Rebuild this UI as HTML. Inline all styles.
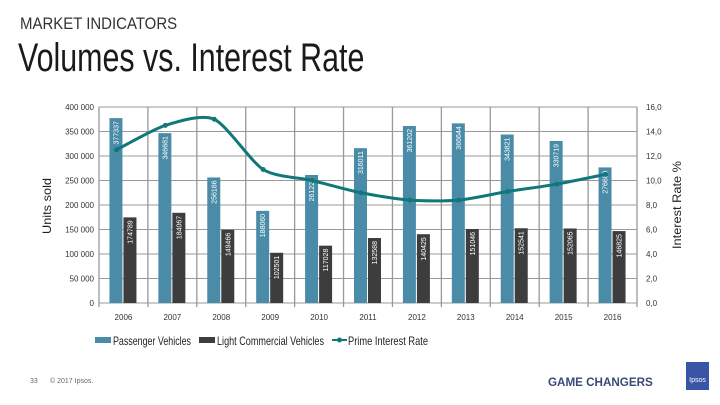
<!DOCTYPE html>
<html><head><meta charset="utf-8"><style>
body{margin:0;background:#fff;font-family:"Liberation Sans",sans-serif;}
#wrap{position:relative;width:720px;height:405px;overflow:hidden;}
.t{position:absolute;white-space:nowrap;transform-origin:0 0;}
</style></head><body>
<div id="wrap">
<div class="t" style="left:20px;top:14px;font-size:17px;color:#333;transform:scaleX(0.88);">MARKET INDICATORS</div>
<div class="t" style="left:18px;top:36px;font-size:40px;color:#1a1a1a;transform:scaleX(0.76);">Volumes vs. Interest Rate</div>
<svg id="chart" width="720" height="405" style="position:absolute;left:0;top:0"></svg>
<div class="t" style="left:30px;top:378px;font-size:7px;color:#666;">33</div>
<div class="t" style="left:50px;top:378px;font-size:7px;color:#666;">© 2017 Ipsos.</div>
<div class="t" style="left:548px;top:375px;font-size:12px;font-weight:bold;color:#3a4a78;transform:scaleX(0.97);">GAME CHANGERS</div>
<div class="t" style="left:686px;top:362px;width:23px;height:28px;background:#3a55a5;color:#fff;font-size:7px;text-align:center;line-height:38px;">Ipsos</div>
</div>
<script>
const categories=["2006","2007","2008","2009","2010","2011","2012","2013","2014","2015","2016"];
const passenger=[377337,346681,256186,188060,261225,316011,361202,366644,343821,330719,276689];
const commercial=[174789,184067,149466,102501,117028,132588,140425,151046,152541,152065,146825];
const rate=[12.5,14.5,15.0,10.9,10.0,9.0,8.4,8.4,9.1,9.7,10.5];
const leftTicks=["0","50 000","100 000","150 000","200 000","250 000","300 000","350 000","400 000"];
const rightTicks=["0,0","2,0","4,0","6,0","8,0","10,0","12,0","14,0","16,0"];
const NS="http://www.w3.org/2000/svg";
const svg=document.getElementById('chart');
const X0=99,W=538,Y0=303,H=196;
const bw=W/categories.length;
const y=v=>Y0-v/400000*H;
const yr=v=>Y0-v/16*H;
const cx=i=>X0+bw*(i+0.5);
function mk(tag,a){const e=document.createElementNS(NS,tag);for(const k in a)e.setAttribute(k,a[k]);svg.appendChild(e);return e;}
leftTicks.forEach((t,i)=>{const yy=Y0-i*H/8;
 const g=mk('line',{x1:X0,x2:X0+W,y1:yy,y2:yy,stroke:'#999','stroke-width':1});
 
 const l=mk('text',{x:94,y:yy+3,'text-anchor':'end','font-size':8,fill:'#333'});l.textContent=t;
 
 const r=mk('text',{x:646,y:yy+3,'font-size':8,fill:'#333'});r.textContent=rightTicks[i];
 
});
for(let i=0;i<=categories.length;i++){const xx=X0+i*bw;
 const g=mk('line',{x1:xx,x2:xx,y1:Y0-H,y2:Y0+4,stroke:'#999','stroke-width':1.3});
 }
categories.forEach((c,i)=>{
 const t=mk('text',{x:cx(i),y:320,'text-anchor':'middle','font-size':8,fill:'#333'});t.textContent=c;
 
 const p=mk('rect',{x:cx(i)-14,y:y(passenger[i]),width:13,height:Y0-y(passenger[i]),fill:'#4a8ba8'});
 
 const q=mk('rect',{x:cx(i),y:y(commercial[i]),width:13,height:Y0-y(commercial[i]),fill:'#3d3d3d'});
 
 const a=mk('text',{transform:`translate(${cx(i)-5},${y(passenger[i])+3}) rotate(-90)`,'text-anchor':'end','font-size':7,fill:'#fff'});a.textContent=passenger[i];
 
 const b=mk('text',{transform:`translate(${cx(i)+9},${y(commercial[i])+3}) rotate(-90)`,'text-anchor':'end','font-size':7,fill:'#fff'});b.textContent=commercial[i];
 
});
const pts=rate.map((v,i)=>[cx(i)-7,yr(v)]);
let d=`M${pts[0][0]},${pts[0][1]}`;
for(let i=0;i<pts.length-1;i++){const p0=pts[i-1]||pts[i],p1=pts[i],p2=pts[i+1],p3=pts[i+2]||p2;
 d+=` C${p1[0]+(p2[0]-p0[0])/8},${p1[1]+(p2[1]-p0[1])/8} ${p2[0]-(p3[0]-p1[0])/8},${p2[1]-(p3[1]-p1[1])/8} ${p2[0]},${p2[1]}`;}
const ln=mk('path',{d,fill:'none',stroke:'#11777a','stroke-width':3});

pts.forEach(p=>{const c=mk('circle',{cx:p[0],cy:p[1],r:2.5,fill:'#11777a'});
 });
const at=mk('text',{transform:'translate(51,206) rotate(-90)','text-anchor':'middle','font-size':12,fill:'#222',textLength:56,lengthAdjust:'spacingAndGlyphs'});at.textContent='Units sold';

const at2=mk('text',{transform:'translate(681,205) rotate(-90)','text-anchor':'middle','font-size':12,fill:'#222',textLength:88,lengthAdjust:'spacingAndGlyphs'});at2.textContent='Interest Rate %';

const l1=mk('rect',{x:95,y:337,width:16,height:6,fill:'#4a8ba8'});
const lt1=mk('text',{x:113,y:345,'font-size':12,fill:'#222',textLength:78,lengthAdjust:'spacingAndGlyphs'});lt1.textContent='Passenger Vehicles';
const l2=mk('rect',{x:199,y:337,width:16,height:6,fill:'#3d3d3d'});
const lt2=mk('text',{x:217,y:345,'font-size':12,fill:'#222',textLength:107,lengthAdjust:'spacingAndGlyphs'});lt2.textContent='Light Commercial Vehicles';
const l3=mk('line',{x1:332,x2:347,y1:340,y2:340,stroke:'#11777a','stroke-width':2});
const l3c=mk('circle',{cx:339.5,cy:340,r:2.5,fill:'#11777a'});
const lt3=mk('text',{x:348,y:345,'font-size':12,fill:'#222',textLength:80,lengthAdjust:'spacingAndGlyphs'});lt3.textContent='Prime Interest Rate';
</script>
</body></html>
